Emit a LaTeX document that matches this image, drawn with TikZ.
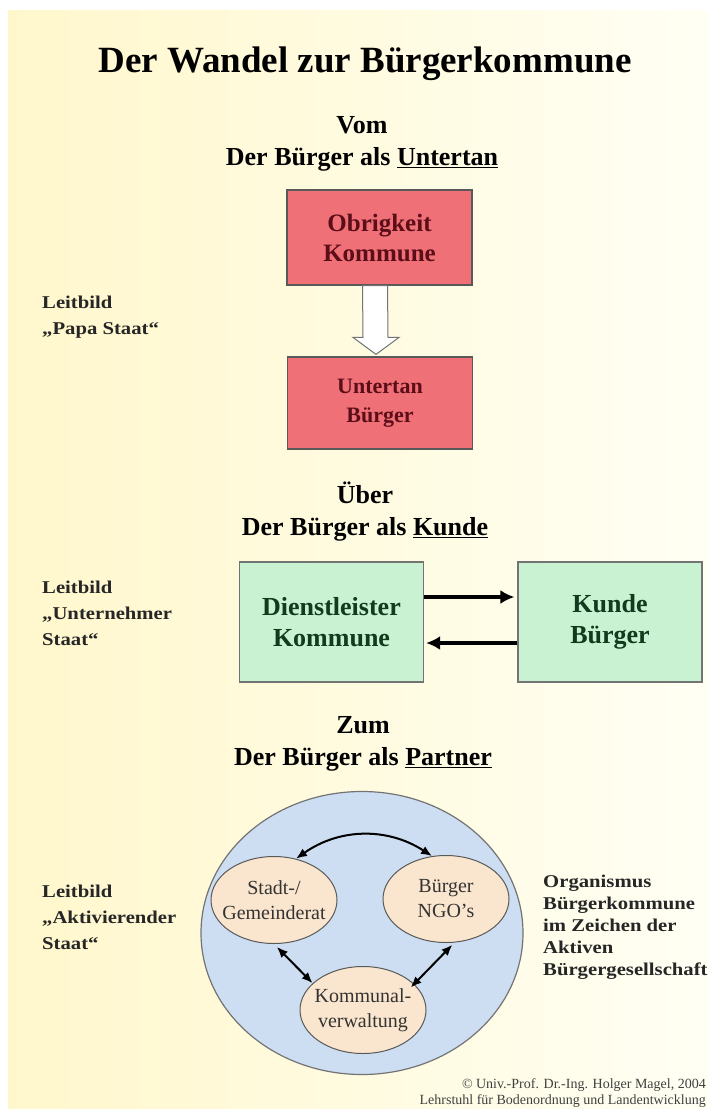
\documentclass[tikz,border=0pt]{standalone}
\usepackage{fontspec}
\setmainfont{Liberation Serif}
\newfontfamily\breit[FakeStretch=1.15]{Liberation Serif}
\usetikzlibrary{arrows.meta,calc,shapes.geometric}
\definecolor{gelb}{RGB}{255,247,204}
\definecolor{hell}{RGB}{255,255,244}
\definecolor{rosa}{RGB}{240,112,120}
\definecolor{mint}{RGB}{200,242,210}
\definecolor{himmel}{RGB}{206,222,242}
\definecolor{pfirsich}{RGB}{250,230,206}
\definecolor{weinrot}{RGB}{92,14,24}
\definecolor{tanne}{RGB}{18,58,30}
\newcommand{\fs}[2]{\fontsize{#1}{#2}\selectfont}
\newcommand{\unterstr}[1]{\leavevmode\vtop{\hbox{#1}\kern1.5pt\hrule height 1.6pt}}

\begin{document}
\begin{tikzpicture}[x=1pt,y=-1pt,
    kopf/.style={anchor=base,font=\bfseries\fs{26}{32}},
    rotbox/.style={draw=black!65,line width=1.2,fill=rosa,text=weinrot,align=center,minimum width=185},
    gruenbox/.style={draw=black!55,line width=1.2,fill=mint,text=tanne,align=center,
      minimum width=184,minimum height=120,font=\bfseries\fs{26}{31}},
    leit/.style={anchor=north west,inner sep=0,align=left,text=black!85,font=\breit\bfseries\fs{18}{26}},
    oval/.style={ellipse,draw=black!65,line width=1,fill=pfirsich,text=black!80,align=center,
      inner xsep=-10,inner ysep=0,minimum width=126,minimum height=87,font=\fs{20}{25}},
    pfeil/.style={line width=3.5,-{Latex[length=14,width=14]}},
    doppel/.style={line width=2,{Latex[length=11,width=9]}-{Latex[length=11,width=9]}},
    hohl/.style={draw=black!55,fill=white,line width=1}]
  \useasboundingbox (0,0) rectangle (709,1109);
  \fill[white] (0,0) rectangle (709,1109);
  \shade[left color=gelb,right color=hell] (8,10) rectangle (709,1109);

  \node[anchor=base,font=\bfseries\fs{37}{44}] (titel) at (365,72) {Der Wandel zur Bürgerkommune};

  % Vom
  \node[kopf] (vom) at (362,133) {Vom};
  \node[kopf] (vomzeile) at (362,165) {Der Bürger als \unterstr{Untertan}};
  \node[rotbox,minimum height=95,font=\bfseries\fs{25}{30}] (obrig) at (379.5,237.5) {Obrigkeit\\Kommune};
  \node[rotbox,minimum height=92,font=\bfseries\fs{22}{29}] (unter) at (380,403) {Untertan\\Bürger};
  \draw[hohl] ($(obrig.south)+(-17,0)$) -- ($(obrig.south)+(8,0)$) -- ($(unter.north)+(8,-19)$)
    -- ($(unter.north)+(19,-19)$) -- ($(unter.north)+(-4,-2)$) -- ($(unter.north)+(-27,-19)$)
    -- ($(unter.north)+(-17,-19)$) -- cycle;
  \node[leit] (papa) at (42,296) {Leitbild\\„Papa Staat“};

  % Ueber
  \node[kopf] (ueber) at (365,503) {Über};
  \node[kopf] (ueberzeile) at (365,535) {Der Bürger als \unterstr{Kunde}};
  \node[gruenbox] (dienst) at (331.5,622) {Dienstleister\\Kommune};
  \node[gruenbox] (kunde) at (610,622) {Kunde\\Bürger};
  \draw[pfeil] ($(dienst.east)+(0,-25)$) -- ($(kunde.west)+(-3,-25)$);
  \draw[pfeil] ($(kunde.west)+(0,21)$) -- ($(dienst.east)+(2,21)$);
  \node[leit] (unternehmer) at (42,581) {Leitbild\\„Unternehmer\\Staat“};

  % Zum
  \node[kopf] (zum) at (363,733) {Zum};
  \node[kopf] (zumzeile) at (363,765) {Der Bürger als \unterstr{Partner}};
  \node[ellipse,draw=black!55,line width=1.2,fill=himmel,minimum width=322,minimum height=283] (organ) at (362,933) {};
  \node[oval] (rat) at (274,900) {Stadt-/\\Gemeinderat};
  \node[oval] (ngo) at (446,899) {Bürger\\NGO’s};
  \node[oval] (kv) at (363,1010) {Kommunal-\\verwaltung};
  \draw[doppel] (rat.62) to[bend left=34] (ngo.108);
  \draw[doppel,shorten <=4] (rat.south) -- (kv.152);
  \draw[doppel,shorten <=3,shorten >=-5] (ngo.-79) -- (kv.27);
  \node[leit] (aktiv) at (42,885) {Leitbild\\„Aktivierender\\Staat“};
  \node[leit,font=\breit\bfseries\fs{18}{22}] (organismus) at (543,875)
    {Organismus\\Bürgerkommune\\im Zeichen der\\Aktiven\\Bürgergesellschaft};

  \node[anchor=north east,inner sep=0,align=right,text=black!75,font=\fs{14}{16}] (copy) at (706,1078)
    {© Univ.-Prof. Dr.-Ing. Holger Magel, 2004\\Lehrstuhl für Bodenordnung und Landentwicklung};
\end{tikzpicture}
\end{document}
